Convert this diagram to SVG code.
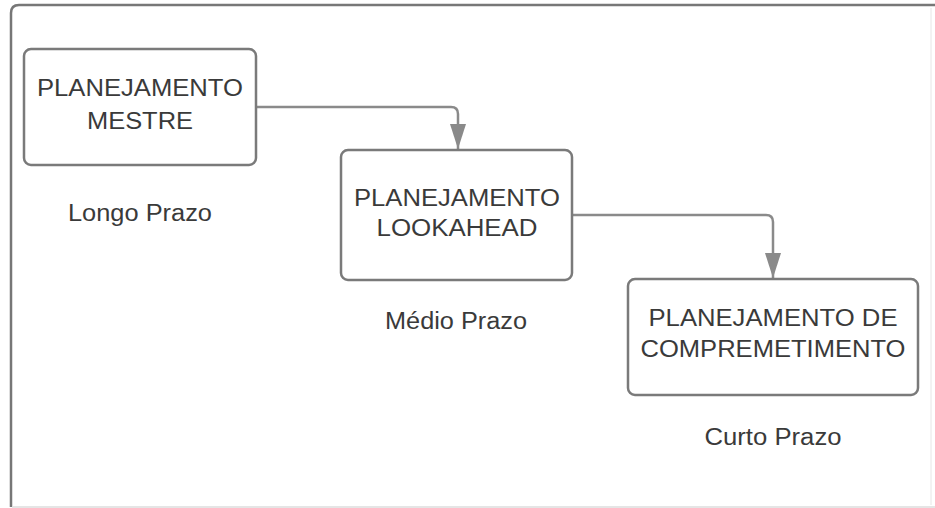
<svg xmlns="http://www.w3.org/2000/svg" width="935" height="508" viewBox="0 0 935 508">
  <defs>
    <style>
      .box { fill: #ffffff; stroke: #7a7a7a; stroke-width: 2.5; }
      .t { font-family: "Liberation Sans", Arial, sans-serif; font-size: 23px; fill: #3a3a3a; text-anchor: middle; }
      .conn { fill: none; stroke: #8a8a8a; stroke-width: 2.5; }
    </style>
    <marker id="arrow" viewBox="0 0 25 16" refX="25" refY="8" markerWidth="25" markerHeight="16" markerUnits="userSpaceOnUse" orient="auto">
      <path d="M0,0 L25,8 L0,16 Z" fill="#8a8a8a"/>
    </marker>
  </defs>
  <rect width="935" height="508" fill="#ffffff"/>
  <g id="frame">
    <path d="M11,507 L11,13 Q11,5 19,5 L935,5" fill="none" stroke="#777777" stroke-width="2.5"/>
    <line x1="931" y1="8" x2="931" y2="505" stroke="#e6e6e6" stroke-width="1"/>
    <line x1="12" y1="507" x2="935" y2="507" stroke="#dcdcdc" stroke-width="1.5"/>
  </g>
  <g id="connectors">
    <path class="conn" d="M256,107 L451,107 Q458,107 458,114 L458,149" marker-end="url(#arrow)"/>
    <path class="conn" d="M572,215 L766,215 Q773,215 773,222 L773,278" marker-end="url(#arrow)"/>
  </g>
  <g id="node-mestre">
    <rect class="box" x="24" y="49" width="232" height="116" rx="7"/>
    <text class="t" x="140" y="96" textLength="206" lengthAdjust="spacingAndGlyphs">PLANEJAMENTO</text>
    <text class="t" x="140" y="129" textLength="106" lengthAdjust="spacingAndGlyphs">MESTRE</text>
  </g>
  <g id="label-longo">
    <text class="t" x="140" y="221" textLength="144" lengthAdjust="spacingAndGlyphs">Longo Prazo</text>
  </g>
  <g id="node-lookahead">
    <rect class="box" x="341" y="150" width="231" height="130" rx="7"/>
    <text class="t" x="457" y="206" textLength="206" lengthAdjust="spacingAndGlyphs">PLANEJAMENTO</text>
    <text class="t" x="457" y="236" textLength="161" lengthAdjust="spacingAndGlyphs">LOOKAHEAD</text>
  </g>
  <g id="label-medio">
    <text class="t" x="456" y="329" textLength="142" lengthAdjust="spacingAndGlyphs">Médio Prazo</text>
  </g>
  <g id="node-comprometimento">
    <rect class="box" x="628" y="279" width="290" height="116" rx="7"/>
    <text class="t" x="773" y="326" textLength="249" lengthAdjust="spacingAndGlyphs">PLANEJAMENTO DE</text>
    <text class="t" x="773" y="357" textLength="265" lengthAdjust="spacingAndGlyphs">COMPREMETIMENTO</text>
  </g>
  <g id="label-curto">
    <text class="t" x="773" y="445" textLength="137" lengthAdjust="spacingAndGlyphs">Curto Prazo</text>
  </g>
</svg>
